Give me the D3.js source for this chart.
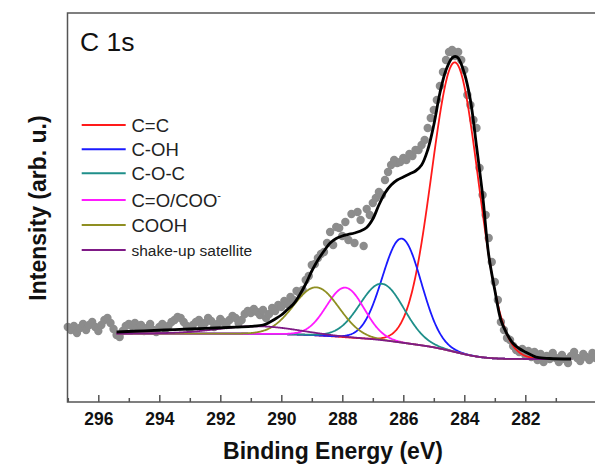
<!DOCTYPE html>
<html><head><meta charset="utf-8">
<script src="https://cdn.jsdelivr.net/npm/d3@7"></script>
<style>body{margin:0;background:#fff} svg{display:block}</style>
</head><body>
<svg id="chart" width="595" height="466"></svg>
<script>
// ---- data ----
const xTicks = [296, 294, 292, 290, 288, 286, 284, 282];
const xMinorTicks = [297, 295, 293, 291, 289, 287, 285, 283, 281];
const xDomain = [297.0, 279.6];
const yDomain = [0, 9725];

// measured spectrum: 0.1 eV steps starting at 297.0 eV
const measuredStart = 297.0, measuredStep = 0.1;
const measuredCounts = [
 1875,1800,1900,1725,1850,1950,1800,1925,2000,1875,
 1775,1925,2050,2100,1975,1825,1675,1625,1775,1900,
 1950,1900,1975,1850,1925,1775,1850,1950,1800,1750,
 1875,1950,1825,1900,2000,2050,2125,2100,2000,1900,
 1825,1925,2000,2050,1900,1975,2100,2025,1875,1950,
 2075,2000,1925,2050,2150,2100,1975,2050,2200,2275,
 2225,2325,2250,2175,2300,2100,2200,2350,2275,2425,
 2375,2525,2450,2625,2550,2775,2725,2800,3050,3150,
 3425,3450,3600,3700,3750,3975,4250,3925,4375,4350,
 4150,4500,4050,4700,3975,4750,4550,3900,4825,4675,
 4975,5100,5250,5175,5550,5750,5925,6050,5975,6000,
 6100,6050,6200,6150,6300,6300,6425,6550,6850,7100,
 7300,7550,7900,8250,8550,8750,8800,8650,8750,8550,
 8300,7675,7425,7050,6850,5850,5175,4675,4100,3500,
 3000,2550,2000,1800,1600,1550,1400,1300,1250,1325,
 1175,1275,1125,1250,1050,1200,1000,1150,1075,1225,
 1100,1000,1175,1075,975,1150,1250,1100,1025,1200,
 1125,1050,1225,1100
];

// envelope of the fit
const fitEnergy = [295.4,294.5,293.5,292.5,291.5,291.0,290.6,290.4,290.2,290.0,
 289.8,289.6,289.4,289.2,289.0,288.8,288.6,288.4,288.2,288.0,
 287.8,287.6,287.4,287.2,287.0,286.8,286.6,286.4,286.2,286.0,
 285.8,285.6,285.4,285.2,285.0,284.8,284.6,284.4,284.3,284.2,
 284.0,283.8,283.6,283.4,283.2,283.0,282.8,282.6,282.4,282.2,
 282.0,281.8,281.6,281.2,280.5];
const fitCounts = [1750,1780,1810,1840,1870,1892,1925,1988,2075,2175,
 2313,2450,2675,2950,3275,3550,3775,3975,4088,4150,
 4188,4225,4275,4363,4575,4925,5225,5425,5550,5625,
 5700,5775,5925,6300,6925,7725,8300,8600,8638,8600,
 8225,7550,6400,5175,3675,2800,2050,1700,1463,1338,
 1250,1175,1113,1088,1075];

// fitted components
const componentNames = ["C=C", "C-OH", "C-O-C", "C=O/COO", "COOH", "shake-up satellite"];
const componentCenter = [284.3, 286.05, 286.7, 287.9, 288.85, 290.8];
const componentHeight = [7240, 2600, 1410, 1240, 1200, 190];
const componentFWHM   = [1.8, 1.5, 1.7, 1.45, 1.75, 3.0];
const componentColors = ["#ff1a1a", "#1a1aff", "#1f8f8a", "#ff1aff", "#8f8f22", "#7f1a86"];
const backgroundEnds = [1075, 1712];      // low-BE side, high-BE side (Shirley)
const componentRange = [280.5, 295.4];

// ---- drawing ----
const svg = d3.select("#chart");
const FONT = "Arial, 'Liberation Sans', Helvetica, sans-serif";
const x = d3.scaleLinear().domain(xDomain).range([67.8, 598.5]);
const y = d3.scaleLinear().domain(yDomain).range([402, 13]);

// measured points
const measured = measuredCounts.map((c, k) => ({E: +(measuredStart - k * measuredStep).toFixed(2), I: c}));
svg.append("g").selectAll("circle").data(measured).join("circle")
  .attr("cx", d => x(d.E)).attr("cy", d => y(d.I)).attr("r", 4.2)
  .attr("fill", "#8c8c8c");

// components on a fine grid, with Shirley background
const gridE = d3.range(componentRange[0], componentRange[1] + 1e-9, 0.02);
const gauss = (E, i) => componentHeight[i] * Math.exp(-4 * Math.LN2 * Math.pow(E - componentCenter[i], 2) / Math.pow(componentFWHM[i], 2));
const total = gridE.map(E => d3.sum(componentCenter, (c, i) => gauss(E, i)));
const cum = [0];
for (let k = 1; k < gridE.length; k++) cum.push(cum[k - 1] + (total[k] + total[k - 1]) / 2);
const cumMax = cum[cum.length - 1];
const bg = cum.map(c => backgroundEnds[0] + (backgroundEnds[1] - backgroundEnds[0]) * c / cumMax);

const line = d3.line().x(d => x(d[0])).y(d => y(d[1]));
componentNames.forEach((name, i) => {
  const pts = gridE.map((E, k) => [E, bg[k] + gauss(E, i)]);
  svg.append("path").attr("d", line(pts)).attr("fill", "none")
    .attr("stroke", componentColors[i]).attr("stroke-width", 1.8);
});

// fit envelope
const fitLine = d3.line().x(d => x(d[0])).y(d => y(d[1])).curve(d3.curveCatmullRom.alpha(0.5));
svg.append("path").attr("d", fitLine(fitEnergy.map((E, k) => [E, fitCounts[k]])))
  .attr("fill", "none").attr("stroke", "#000").attr("stroke-width", 2.8);

// frame
svg.append("rect").attr("x", 67.5).attr("y", 13).attr("width", 600).attr("height", 389)
  .attr("fill", "none").attr("stroke", "#555").attr("stroke-width", 1.5);

// axes
const axMajor = svg.append("g").attr("transform", "translate(0,402)")
  .call(d3.axisBottom(x).tickValues(xTicks).tickSize(-7).tickPadding(11).tickFormat(d3.format("d")));
const axMinor = svg.append("g").attr("transform", "translate(0,402)")
  .call(d3.axisBottom(x).tickValues(xMinorTicks).tickSize(-4).tickFormat(""));
[axMajor, axMinor].forEach(a => {
  a.select(".domain").remove();
  a.selectAll("line").attr("stroke", "#555").attr("stroke-width", 1.5);
});
axMajor.selectAll("text").attr("font-family", FONT).attr("font-size", 17.5)
  .attr("font-weight", "bold").attr("fill", "#111");

// axis titles
svg.append("text").attr("x", 333).attr("y", 459).attr("text-anchor", "middle")
  .attr("font-family", FONT).attr("font-size", 23).attr("font-weight", "bold").attr("fill", "#111")
  .text("Binding Energy (eV)");
svg.append("text").attr("transform", "translate(46,208) rotate(-90)").attr("text-anchor", "middle")
  .attr("font-family", FONT).attr("font-size", 23).attr("font-weight", "bold").attr("fill", "#111")
  .text("Intensity (arb. u.)");

// panel label
svg.append("text").attr("x", 80).attr("y", 51).attr("font-family", FONT).attr("font-size", 26.5)
  .attr("fill", "#111").text("C 1s");

// legend
const legendY = [125, 149.3, 173.3, 200, 225, 250];
const lg = svg.append("g");
componentNames.forEach((name, i) => {
  lg.append("line").attr("x1", 81.7).attr("x2", 125.7).attr("y1", legendY[i]).attr("y2", legendY[i])
    .attr("stroke", componentColors[i]).attr("stroke-width", 2);
  const small = i === 5;
  const t = lg.append("text").attr("x", 131.5).attr("y", legendY[i] + (small ? 5.5 : 6.5))
    .attr("font-family", FONT).attr("font-size", small ? 15.5 : 18.5).attr("fill", "#222").text(name);
  if (i === 3) t.append("tspan").attr("dy", -8).attr("font-size", 11).text("-");
});
</script>
</body></html>
